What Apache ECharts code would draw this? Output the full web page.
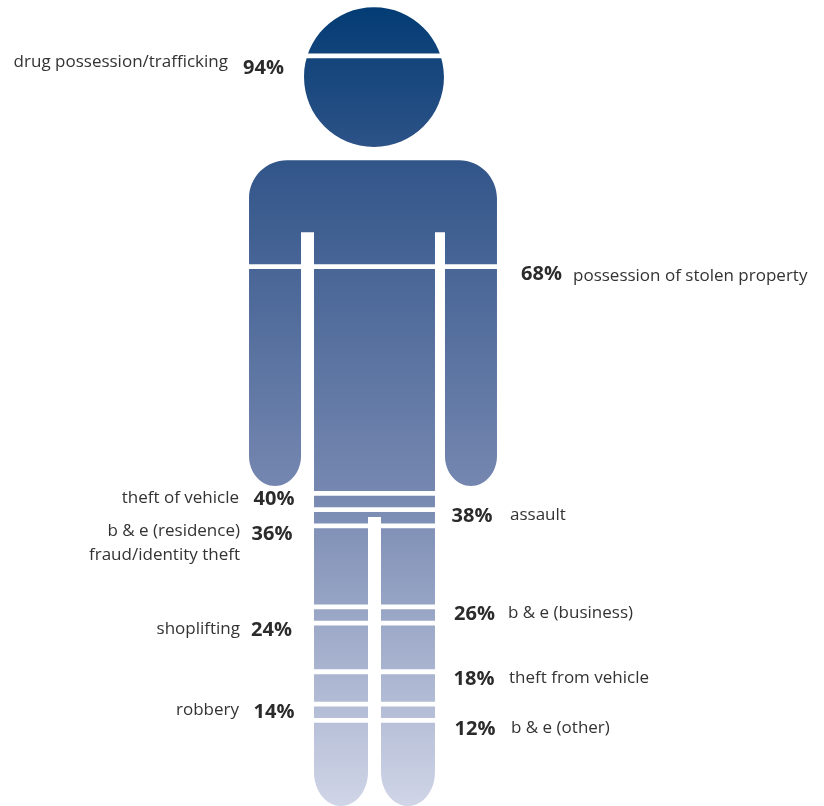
<!DOCTYPE html>
<html><head><meta charset="utf-8">
<style>html,body{margin:0;padding:0;background:#fff}#c{width:824px;height:806px}</style>
<script src="https://cdn.jsdelivr.net/npm/echarts@6/dist/echarts.min.js"></script>
</head><body><div id="c"></div>
<script>
// Data
const categories = ['drug possession/trafficking','possession of stolen property','theft of vehicle','assault','b & e (residence)','fraud/identity theft','b & e (business)','shoplifting','theft from vehicle','robbery','b & e (other)'];
const values = [94,68,40,38,36,36,26,24,18,14,12];
// Layout (pixels), in the same order as the data
const pctX   = [263.5,541.5,274,472,272,null,474.5,271.5,474,274,475];
const pctY   = [68,274,499,516,534,null,614,630,679,712,729];
const nameX  = [228,573,239,510,240,240,508,240,509,239,511];
const nameY  = [62,276,498,515,531,555,613,629,678,710,728];
const nameAlign = ['right','left','right','left','right','right','left','right','left','right','left'];

const silhouette = 'M304 76.8 C304 38.1 335.3 7 374 7 C412.7 7 444 38.1 444 76.8 C444 115.5 412.7 146.8 374 146.8 C335.3 146.8 304 115.5 304 76.8 Z '
 + 'M249 198 C249 177 266 160 287 160 L459 160 C480 160 497 177 497 198 L497 456 C497 473 485 486 471 486 C457 486 445 473 445 456 L445 232 L435 232 '
 + 'L435 772 C435 791 423 806 408 806 C393 806 381 791 381 772 L381 517 L368 517 L368 772 C368 791 356 806 341 806 C326 806 314 791 314 772 L314 232 L301 232 L301 456 C301 473 289 486 275 486 C261 486 249 473 249 456 Z';

const FONT = '"Open Sans", "Noto Sans", sans-serif';
const texts = [];
categories.forEach((c,i)=>{
  texts.push({type:'text',z:20,x:nameX[i],y:nameY[i],style:{text:c,font:'17px '+FONT,fill:'#333333',textAlign:nameAlign[i],textVerticalAlign:'middle'}});
  if(pctX[i]!==null) texts.push({type:'text',z:20,x:pctX[i],y:pctY[i],style:{text:values[i]+'%',font:'bold 20px '+FONT,fill:'#2b2b2b',textAlign:'center',textVerticalAlign:'middle'}});
});

const chart = echarts.init(document.getElementById('c'),null,{renderer:'canvas'});
chart.setOption({
  animation:false,
  backgroundColor:'#fff',
  grid:{left:0,right:0,top:7.2,height:810.4,outerBoundsMode:'none'},
  xAxis:{type:'value',min:0,max:824,show:false},
  yAxis:{type:'value',min:0,max:100,show:false},
  graphic:texts,
  series:[
    {type:'custom',silent:true,z:2,clip:false,data:[[0,100]],
     renderItem(p,api){
       const tl=api.coord([249,100]), br=api.coord([497,1.43]);
       return {type:'path',shape:{pathData:silhouette,x:tl[0],y:tl[1],width:br[0]-tl[0],height:br[1]-tl[1]},
         style:{fill:new echarts.graphic.LinearGradient(0,0,0,1,[
           {offset:0,color:'#033c74'},{offset:0.2,color:'#33568a'},{offset:0.6,color:'#7587b0'},{offset:1,color:'#d0d5e7'}])}};
     }},
    {type:'custom',silent:true,z:3,clip:false,data:[...new Set(values)].map(v=>[v]),encode:{y:0},
     renderItem(p,api){
       const v=api.value(0);
       const half=v>60?[249,497]:[314,435];
       const a=api.coord([half[0],v]),b=api.coord([half[1],v]);
       return {type:'rect',shape:{x:a[0],y:a[1]-2.4,width:b[0]-a[0],height:4.8},style:{fill:'#fff'}};
     }}
  ]
});
</script></body></html>
